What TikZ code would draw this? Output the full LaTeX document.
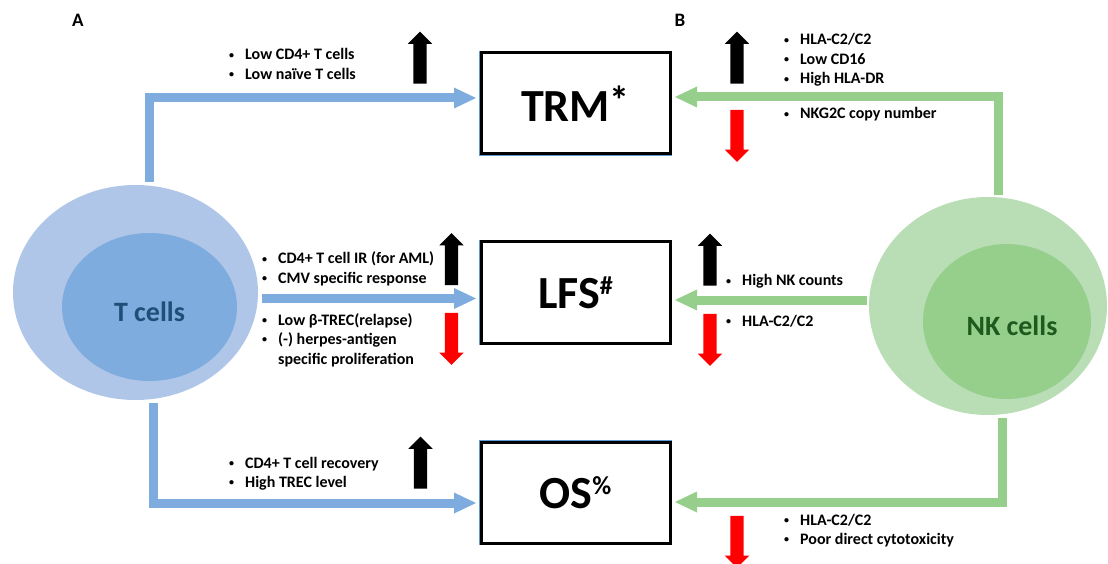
\documentclass[tikz,border=0pt]{standalone}
\usepackage{fontspec}
\setmainfont{Carlito}
\usepackage{tikz}
\usetikzlibrary{shapes.geometric, shapes.arrows, positioning, arrows.meta}

\definecolor{tlight}{RGB}{176,198,232}
\definecolor{tdark}{RGB}{127,172,222}
\definecolor{ttext}{RGB}{31,78,121}
\definecolor{nlight}{RGB}{185,221,181}
\definecolor{ndark}{RGB}{150,207,140}
\definecolor{ntext}{RGB}{30,90,30}
\definecolor{boxblue}{RGB}{91,155,213}

\newcommand{\dotb}{\raisebox{1.8pt}{\fontsize{10}{10}\selectfont\textbullet}}
\newcommand{\blist}[1]{\begin{tabular}[t]{@{}l@{\hspace{11pt}}l@{}}#1\end{tabular}}

\tikzset{
  outcome/.style={draw=black, line width=3pt, preaction={draw=boxblue,
      line width=4.5pt}, fill=white, minimum width=189pt, minimum
    height=101pt, inner sep=0pt, outer sep=0pt,
    font=\fontsize{46}{50}\selectfont\bfseries},
  tflow/.style={draw=tdark, line width=9pt, -{Triangle[length=22pt,
      width=21pt, line width=0pt]}, shorten >=5pt},
  nflow/.style={draw=ndark, line width=9pt, -{Triangle[length=22pt,
      width=21pt, line width=0pt]}, shorten >=5pt},
  signal/.style={single arrow, draw=none, minimum height=52pt, text
    height=6.5pt, text depth=6.5pt, single arrow head extend=5.5pt, inner
    sep=0pt},
  upsig/.style={signal, fill=black, rotate=90},
  downsig/.style={signal, fill=red, rotate=-90},
  cellname/.style={font=\fontsize{28}{30}\selectfont\bfseries},
  panel/.style={font=\fontsize{19}{22}\selectfont\bfseries},
  findings/.style={font=\fontsize{16}{19.5}\selectfont\bfseries, inner
    sep=0pt, anchor=base west}
}

\begin{document}
\begin{tikzpicture}[x=1pt, y=1pt]
  \useasboundingbox (0,0) rectangle (1108,563);%

  % Panels
  \node [panel] (A) at (78,543) {A};%
  \node [panel] (B) at (680,543) {B};%

  % Outcomes
  \node [outcome] (TRM) at (575.5,459.5) {TRM\raisebox{7pt}{\fontsize{40}{40}\selectfont *}};%
  \node [outcome, below=88pt of TRM] (LFS) {LFS\raisebox{14pt}{\fontsize{26}{26}\selectfont\#}};%
  \node [outcome, below=99pt of LFS] (OS) {OS\raisebox{14pt}{\fontsize{26}{26}\selectfont\%}};%

  % T cells
  \node [ellipse, fill=tlight, minimum width=245pt, minimum height=215pt]
  (Tout) at (135.5,270.5) {};%
  \node [ellipse, fill=tdark, minimum width=175pt, minimum height=148pt]
  (Tin) at (149.5,256) {};%
  \node [cellname, text=ttext] (Tname) at ([yshift=-5pt]Tin.center) {T
    cells};%

  % NK cells
  \node [ellipse, fill=nlight, minimum width=238pt, minimum height=218pt]
  (NKout) at (988,257) {};%
  \node [ellipse, fill=ndark, minimum width=168pt, minimum height=155pt]
  (NKin) at (1007,241.5) {};%
  \node [cellname, text=ntext] (NKname) at ([xshift=5pt,
  yshift=-4pt]NKin.center) {NK cells};%

  % arrows -- T cells
  \draw [tflow] ([xshift=13.5pt, yshift=3pt]Tout.north) |-
  ([yshift=5.5pt]TRM.west);%
  \draw [tflow] ([xshift=4pt, yshift=-6pt]Tout.east) --
  ([yshift=-6pt]LFS.west);%
  \draw [tflow] ([xshift=17.5pt, yshift=-3pt]Tout.south) |-
  ([yshift=-10.5pt]OS.west);%

  % arrows -- NK cells
  \draw [nflow] ([xshift=10pt, yshift=2pt]NKout.north) |-
  ([yshift=6.5pt]TRM.east);%
  \draw [nflow] ([xshift=-2pt, yshift=6pt]NKout.west) --
  ([yshift=-7.5pt]LFS.east);%
  \draw [nflow] ([xshift=14pt, yshift=-3pt]NKout.south) |-
  ([yshift=-9.5pt]OS.east);%

  % up / down
  \node [upsig] (TRM_up_T) at (420,502) {};%
  \node [upsig] (TRM_up_NK) at (737,502) {};%
  \node [downsig] (TRM_down_NK) at (737,430.5) {};%
  \node [upsig] (LFS_up_T) at (451.5,300.5) {};%
  \node [downsig] (LFS_down_T) at (451.5,227.5) {};%
  \node [upsig] (LFS_up_NK) at (710,300) {};%
  \node [downsig] (LFS_down_NK) at (710,226.5) {};%
  \node [upsig] (OS_up_T) at (420.5,97) {};%
  \node [downsig] (OS_down_NK) at (737,24.5) {};%

  % findings
  \node [findings] (TRM_T) at (229,503) {\blist{\dotb & Low CD4+ T
      cells\\ \dotb & Low naïve T cells}};%
  \node [findings] (TRM_NK_hi) at (784,518) {\blist{\dotb &
      HLA-C2/C2\\ \dotb & Low CD16\\ \dotb & High HLA-DR}};%
  \node [findings] (TRM_NK_lo) at (784,444) {\blist{\dotb & NKG2C
      copy number}};%
  \node [findings] (LFS_T_hi) at (262,299) {\blist{\dotb & CD4+ T
      cell IR (for AML)\\ \dotb & CMV specific response}};%
  \node [findings] (LFS_T_lo) at (262,238) {\blist{\dotb & Low
      β-TREC(relapse)\\ \dotb & (-) herpes-antigen\\ & specific
      proliferation}};%
  \node [findings] (LFS_NK_hi) at (726,277) {\blist{\dotb & High NK
      counts}};%
  \node [findings] (LFS_NK_lo) at (726,237) {\blist{\dotb &
      HLA-C2/C2}};%
  \node [findings] (OS_T) at (229,95) {\blist{\dotb & CD4+ T cell
      recovery\\ \dotb & High TREC level}};%
  \node [findings] (OS_NK) at (784,38) {\blist{\dotb & HLA-C2/C2\\
      \dotb & Poor direct cytotoxicity}};%
\end{tikzpicture}
\end{document}
